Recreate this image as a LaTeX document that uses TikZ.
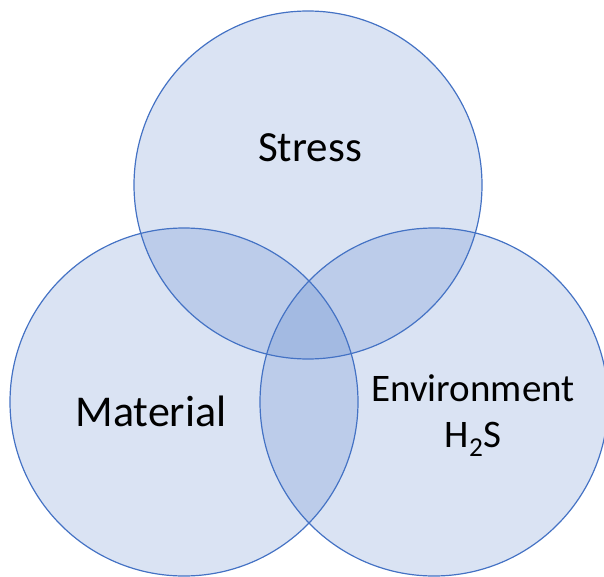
\documentclass[tikz,border=0pt]{standalone}
\usepackage{fontspec}
\setmainfont{Carlito}
\definecolor{venn}{HTML}{4472C4}
\begin{document}
\begin{tikzpicture}[x=1pt,y=-1pt,
  set/.style={circle, draw=venn, line width=1.2pt, fill=venn, fill opacity=0.2, draw opacity=1, minimum size=348pt, inner sep=0pt},
  lbl/.style={text=black, align=center, inner sep=0pt}]
  \useasboundingbox (0,0) rectangle (604,577);
  % the three overlapping sets
  \node[set] (stress) at (308,185) {};
  \node[set] (material) at (184,402) {};
  \node[set] (env) at (434,402) {};
  % set labels
  \node[lbl, font=\fontsize{43}{50}\selectfont] (tstress) at (310,148) {Stress};
  \node[lbl, font=\fontsize{44}{50}\selectfont] (tmaterial) at (151,411) {Material};
  \node[lbl, font=\fontsize{39}{46}\selectfont] (tenv) at (473,416) {Environment\\H\textsubscript{2}S};
\end{tikzpicture}
\end{document}
